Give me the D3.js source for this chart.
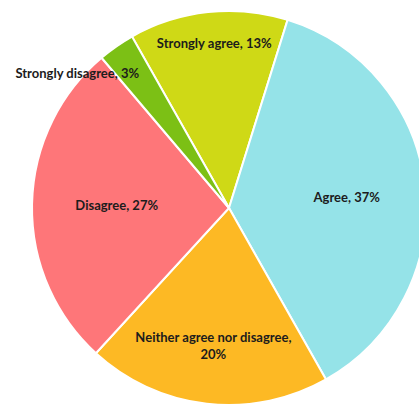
<!DOCTYPE html>
<html>
<head>
<meta charset="utf-8">
<script src="https://cdn.jsdelivr.net/npm/d3@7"></script>
<style>
  html, body { margin: 0; padding: 0; background: #fff; }
  svg { display: block; }
  .lbl { font-family: Lato, "Open Sans", sans-serif; font-weight: bold; font-size: 13px; fill: #1c1c1c; }
</style>
</head>
<body>
<svg width="419" height="405"></svg>
<script>
// data
const categories = ["Strongly agree", "Agree", "Neither agree nor disagree", "Disagree", "Strongly disagree"];
const values = [13, 37, 20, 27, 3];
const colors = ["#cfd916", "#95e3e8", "#fdb924", "#fe7679", "#7cc015"];

// layout
const svg = d3.select("svg");
const cx = 229, cy = 208, radius = 197;
const startDeg = -29.5;
// label placement: share of the radius and a turn (degrees) off the slice middle
const labelPos = {
  "Strongly agree": [0.84, 1],
  "Agree": [0.6, 1],
  "Neither agree nor disagree": [0.7, 0],
  "Disagree": [0.57, 0],
  "Strongly disagree": [1.03, -13.5]
};

const pie = d3.pie().sort(null)
  .startAngle(startDeg * Math.PI / 180)
  .endAngle((startDeg + 360) * Math.PI / 180);
const arcs = pie(values);
const arc = d3.arc().innerRadius(0).outerRadius(radius);

const g = svg.append("g").attr("transform", "translate(" + cx + "," + cy + ")");

g.selectAll("path")
  .data(arcs)
  .enter().append("path")
  .attr("d", arc)
  .attr("fill", function (d, i) { return colors[i]; })
  .attr("stroke", "#fff")
  .attr("stroke-width", 2);

const labels = g.selectAll("text")
  .data(arcs)
  .enter().append("text")
  .attr("class", "lbl")
  .attr("text-anchor", "middle")
  .attr("transform", function (d, i) {
    const p = labelPos[categories[i]];
    const r = radius * p[0];
    const a = (d.startAngle + d.endAngle) / 2 + p[1] * Math.PI / 180;
    return "translate(" + (Math.sin(a) * r) + "," + (-Math.cos(a) * r) + ")";
  });

labels.each(function (d, i) {
  const t = d3.select(this);
  if (categories[i].length > 20) {
    // long label wraps after the comma
    t.append("tspan").attr("x", 0).attr("dy", "-0.2em").text(categories[i] + ",");
    t.append("tspan").attr("x", 0).attr("dy", "1.25em").text(values[i] + "%");
  } else {
    t.append("tspan").attr("x", 0).attr("dy", "0.35em").text(categories[i] + ", " + values[i] + "%");
  }
});
</script>
</body>
</html>
